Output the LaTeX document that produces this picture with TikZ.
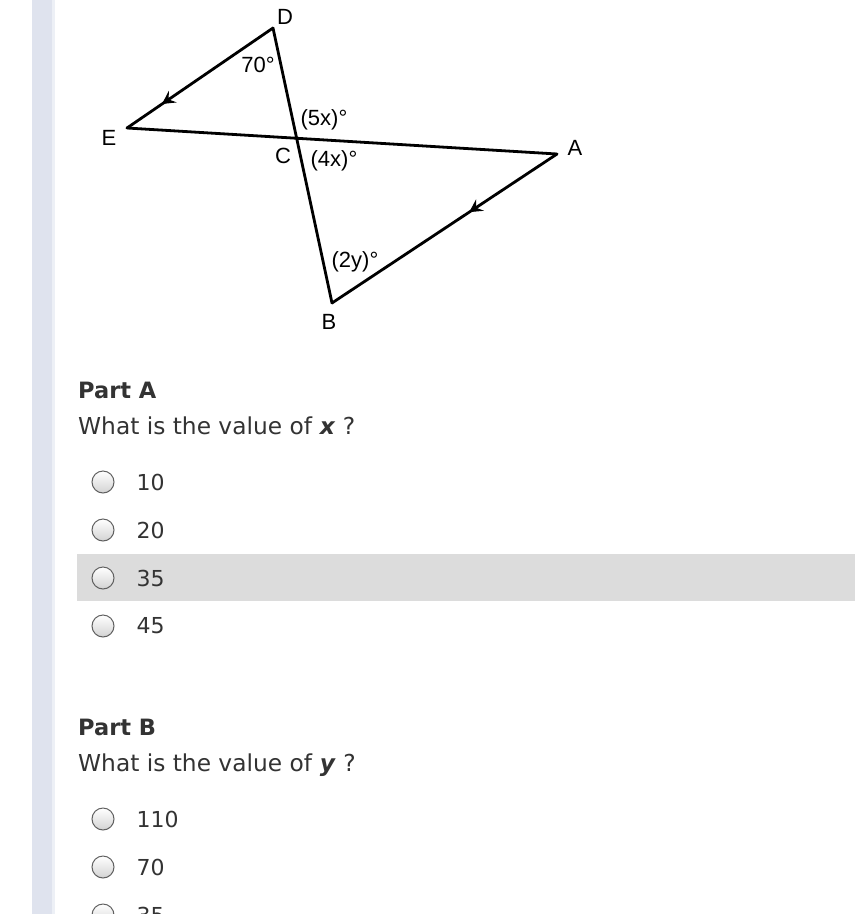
\documentclass[tikz,border=0pt]{standalone}
\usepackage{fontspec}
\setmainfont{DejaVu Sans}
\newfontfamily\figfont{Liberation Sans}
\usetikzlibrary{positioning, arrows.meta, decorations.markings}
\usepackage{xcolor}
\definecolor{pagetext}{HTML}{333333}
\definecolor{sidebar}{HTML}{DFE3EE}
\definecolor{rowhi}{HTML}{DCDCDC}

\begin{document}
\begin{tikzpicture}[
                x=1pt, y=-1pt,
                seg/.style={line width=2.8pt, line cap=round, line join=round},
                tick/.style={postaction={decorate, decoration={markings,
                    mark=at position #1 with {\arrow[line width=1pt]{Stealth[length=13pt, width=14pt, inset=5pt]}}}}},
                vlabel/.style={font=\figfont\fontsize{22}{22}\selectfont, inner sep=0pt},
                alabel/.style={font=\figfont\fontsize{22}{22}\selectfont, inner sep=0pt},
                head/.style={anchor=base west, inner sep=0pt, text=pagetext, font=\fontsize{22.5}{22.5}\selectfont\bfseries},
                ask/.style={anchor=base west, inner sep=0pt, text=pagetext, font=\fontsize{23.3}{23.3}\selectfont},
                radio/.style={circle, minimum size=22pt, inner sep=0pt, draw=gray!75!black, line width=1pt, top color=white, bottom color=gray!35},
                choice/.style={anchor=base west, inner sep=0pt, text=pagetext, font=\fontsize{22}{22}\selectfont}
            ]
            \useasboundingbox (0,0) rectangle (855,914);
            \fill[white] (0,0) rectangle (855,914);
            \fill[sidebar] (32,0) rectangle (52,914);
            \fill[sidebar!55] (52,0) rectangle (55,914);
            \fill[rowhi] (77,554) rectangle (855,601);

            \coordinate (D) at (273,28);
            \coordinate (E) at (127,128);
            \coordinate (C) at (297,139);
            \coordinate (A) at (557,154);
            \coordinate (B) at (332,303);

            \draw[seg] (D) -- (B);
            \draw[seg] (E) -- (A);
            \draw[seg, tick=0.76] (D) -- (E);
            \draw[seg, tick=0.39] (A) -- (B);

            \node[vlabel] (lD) at (285,17) {D};
            \node[vlabel] (lE) at (109,138) {E};
            \node[vlabel] (lC) at (283,156) {C};
            \node[vlabel] (lA) at (575,148) {A};
            \node[vlabel] (lB) at (329,322) {B};
            \node[alabel] (aD) at (258,65) {70°};
            \node[alabel] (a5x) at (324,120) {(5x)°};
            \node[alabel] (a4x) at (334,161) {(4x)°};
            \node[alabel] (a2y) at (355,262) {(2y)°};

            \node[head] (partA) at (78,398) {Part A};
            \node[ask] (qA) at (78,434) {What is the value of \textbf{\itshape x} ?};
            \foreach \val/\yy [count=\i] in {10/482, 20/530, 35/578, 45/626} {
                \node[radio] (ra\i) at (103,\yy) {};
                \node[choice, right=22pt of ra\i.east, anchor=west] (ca\i) {\val};
            }

            \node[head] (partB) at (78,735) {Part B};
            \node[ask] (qB) at (78,771) {What is the value of \textbf{\itshape y} ?};
            \foreach \val/\yy [count=\i] in {110/819, 70/867, 35/915} {
                \node[radio] (rb\i) at (103,\yy) {};
                \node[choice, right=22pt of rb\i.east, anchor=west] (cb\i) {\val};
            }
        \end{tikzpicture}
\end{document}
